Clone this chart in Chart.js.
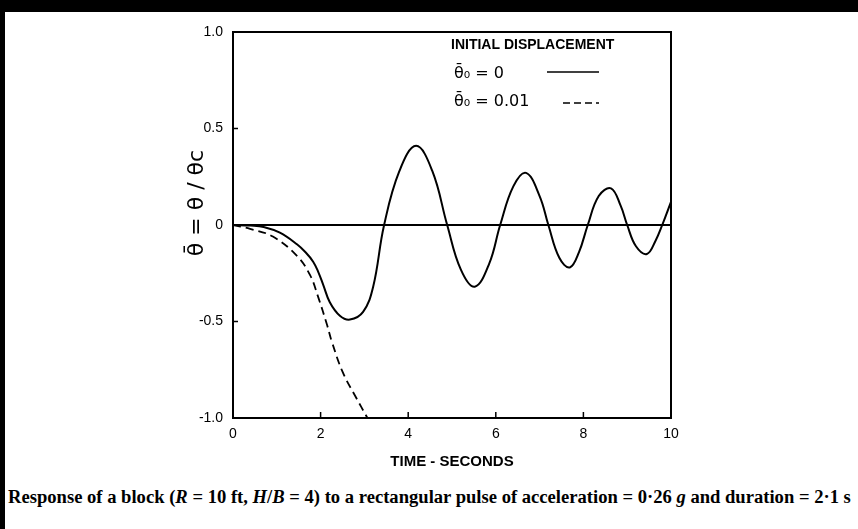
<!DOCTYPE html>
<html>
<head>
<meta charset="utf-8">
<script src="https://cdn.jsdelivr.net/npm/chart.js@4"></script>
<style>
  body { margin: 0; background: #000; width: 858px; height: 529px; overflow: hidden; position: relative; }
  #paper { position: absolute; left: 5px; top: 12px; width: 853px; height: 517px; background: #fff; }
  #chart { position: absolute; left: 0; top: 0; }
  #caption {
    position: absolute; left: 8px; top: 486px; white-space: nowrap;
    font-family: "Liberation Serif", serif; font-weight: bold; font-size: 18.6px; color: #000;
  }
</style>
</head>
<body>
<div id="paper"></div>
<canvas id="chart" width="858" height="480"></canvas>
<div id="caption">Response of a block (<i>R</i> = 10 ft, <i>H</i>/<i>B</i> = 4) to a rectangular pulse of acceleration = 0·26 <i>g</i> and duration = 2·1 s</div>
<script>
// time (s) and normalised rotation
const timeSolid = [0, 0.4, 0.7, 1.07, 1.46, 1.65, 1.83, 1.95, 2.06, 2.21, 2.44, 2.67, 2.97, 3.2, 3.45, 3.8, 4.18, 4.55, 4.89, 5.2, 5.52, 5.85, 6.1, 6.4, 6.69, 7.0, 7.2, 7.45, 7.69, 7.9, 8.1, 8.35, 8.63, 8.85, 9.0, 9.2, 9.45, 9.65, 9.8, 10];
const thetaSolid = [0, -0.003, -0.01, -0.04, -0.10, -0.14, -0.19, -0.245, -0.31, -0.40, -0.47, -0.49, -0.45, -0.32, 0, 0.28, 0.41, 0.28, 0, -0.23, -0.32, -0.2, 0, 0.2, 0.27, 0.15, 0, -0.17, -0.22, -0.14, 0, 0.15, 0.19, 0.1, 0, -0.11, -0.15, -0.08, 0, 0.12];

const timeDashed = [0, 0.39, 0.91, 1.46, 1.76, 1.94, 2.15, 2.25, 2.5, 2.8, 3.07];
const thetaDashed = [0, -0.02, -0.06, -0.16, -0.26, -0.37, -0.52, -0.60, -0.76, -0.89, -1.0];

const xTicks = [0, 2, 4, 6, 8, 10];
const yTicks = [-1, -0.5, 0, 0.5, 1];
const yTickLabels = ['-1.0', '-0.5', '0', '0.5', '1.0'];

const legendTitle = 'INITIAL DISPLACEMENT';
const seriesLabels = ['θ̄₀ = 0', 'θ̄₀ = 0.01'];

const toPoints = (xs, ys) => xs.map((x, i) => ({ x: x, y: ys[i] }));

// box, inward ticks, legend and y title
const extras = {
  id: 'extras',
  afterDraw(chart) {
    const ctx = chart.ctx;
    const a = chart.chartArea;
    const xs = chart.scales.x, ys = chart.scales.y;
    ctx.save();
    ctx.strokeStyle = '#000';
    ctx.lineWidth = 2;
    ctx.strokeRect(a.left, a.top, a.right - a.left, a.bottom - a.top);

    ctx.lineWidth = 1.5;
    ctx.beginPath();
    xTicks.forEach(v => {
      const px = xs.getPixelForValue(v);
      ctx.moveTo(px, a.bottom); ctx.lineTo(px, a.bottom - 6);
    });
    yTicks.forEach(v => {
      const py = ys.getPixelForValue(v);
      ctx.moveTo(a.left, py); ctx.lineTo(a.left + 5, py);
    });
    ctx.stroke();

    // legend
    ctx.fillStyle = '#000';
    ctx.textBaseline = 'middle';
    ctx.textAlign = 'left';
    ctx.font = 'bold 14px "Liberation Sans"';
    ctx.fillText(legendTitle, 451, 45);
    ctx.font = '16px "DejaVu Sans"';
    ctx.fillText(seriesLabels[0], 454, 74);
    ctx.fillText(seriesLabels[1], 454, 102);
    ctx.lineWidth = 1.5;
    ctx.beginPath(); ctx.moveTo(547, 72); ctx.lineTo(599, 72); ctx.stroke();
    ctx.setLineDash([7, 4]);
    ctx.beginPath(); ctx.moveTo(563, 103); ctx.lineTo(599, 103); ctx.stroke();
    ctx.setLineDash([]);

    // y axis title
    ctx.translate(197, 203);
    ctx.rotate(-Math.PI / 2);
    ctx.textAlign = 'center';
    ctx.font = '22px "DejaVu Sans"';
    ctx.fillText('θ̄ = θ / θc', 0, 0);
    ctx.restore();
  }
};

new Chart(document.getElementById('chart'), {
  type: 'line',
  data: {
    datasets: [{
      label: seriesLabels[0],
      data: toPoints(timeSolid, thetaSolid),
      borderColor: '#000',
      borderWidth: 2,
      pointRadius: 0,
      tension: 0.4
    }, {
      label: seriesLabels[1],
      data: toPoints(timeDashed, thetaDashed),
      borderColor: '#000',
      borderWidth: 1.8,
      borderDash: [8, 5],
      pointRadius: 0,
      tension: 0.4
    }]
  },
  options: {
    responsive: false,
    animation: false,
    layout: { padding: { left: 0, right: 187, top: 32, bottom: 0 } },
    plugins: { legend: { display: false }, tooltip: { enabled: false } },
    scales: {
      x: {
        type: 'linear', min: 0, max: 10,
        afterBuildTicks: s => { s.ticks = xTicks.map(v => ({ value: v })); },
        afterFit: s => { s.height = 62; },
        grid: { display: false, drawTicks: false },
        border: { color: '#000', width: 2 },
        ticks: { color: '#000', padding: 8, font: { family: 'Liberation Sans', size: 14 } },
        title: { display: true, text: 'TIME - SECONDS', color: '#000', padding: { top: 0, bottom: 9 },
                 font: { family: 'Liberation Sans', size: 15, weight: 'bold' } }
      },
      y: {
        min: -1, max: 1,
        afterBuildTicks: s => { s.ticks = yTicks.map(v => ({ value: v })); },
        afterFit: s => { s.width = 233; },
        grid: {
          drawTicks: false,
          color: c => (c.tick && c.tick.value === 0 ? '#000' : 'rgba(0,0,0,0)'),
          lineWidth: 2
        },
        border: { color: '#000', width: 2 },
        ticks: {
          color: '#000', padding: 10, font: { family: 'Liberation Sans', size: 14 },
          callback: v => yTickLabels[yTicks.indexOf(v)]
        }
      }
    }
  },
  plugins: [extras]
});
</script>
</body>
</html>
